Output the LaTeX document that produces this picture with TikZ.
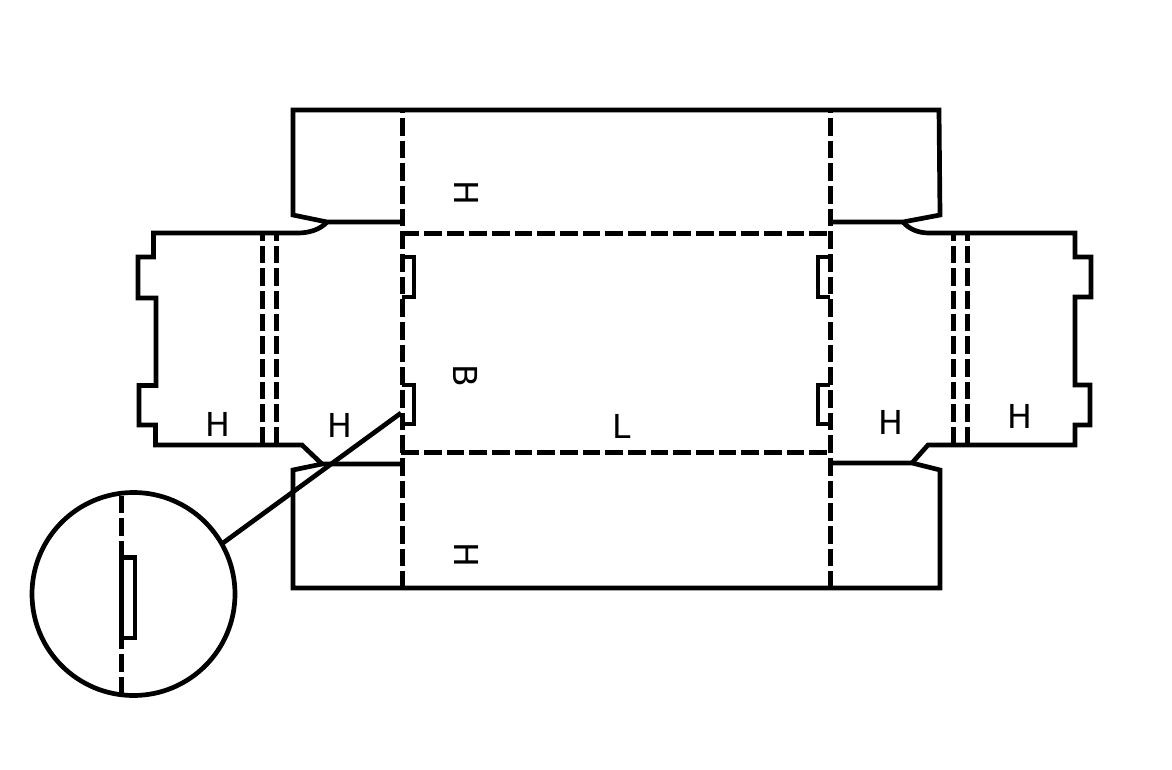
\documentclass[tikz,border=0pt]{standalone}
\usepackage{fontspec}
\setmainfont{DejaVu Sans}
\tikzset{
  cut/.style={line width=4.7pt,line join=miter,black},
  fold/.style={line width=5pt,black,dash pattern=on 17.6pt off 5.07pt},
  lbl/.style={inner sep=0pt,font=\fontsize{33}{33}\selectfont},
}
\begin{document}
\begin{tikzpicture}[x=1pt,y=-1pt]
\useasboundingbox (0,0) rectangle (1172,770);
% top flap
\draw[cut] (402,222) -- (327,222) -- (293,215) -- (293,110) -- (939,110) -- (940,215) -- (903,222) -- (830,222);
% bottom flap
\draw[cut] (402,464) -- (322,464) -- (293,470) -- (293,588) -- (940,588) -- (940,470) -- (912,463) -- (830,463);
% left side
\draw[cut] (327,222) .. controls (320,230) and (308,233) .. (298,233) -- (153.5,233) -- (153.5,257) -- (138,257) -- (138,298) -- (156,298) -- (156,385.5) -- (139,385.5) -- (139,425) -- (155.5,425) -- (155.5,445) -- (302,445) -- (322,464);
% right side
\draw[cut] (903,222) .. controls (909,229) and (918,233) .. (929,233) -- (1075,233) -- (1075,257) -- (1091,257) -- (1091,297) -- (1075,297) -- (1075,385) -- (1090,385) -- (1090,425) -- (1075,425) -- (1075,445) -- (928,445) -- (912,463);
% small tabs
\draw[cut] (402,257) -- (414,257) -- (414,297) -- (402,297);
\draw[cut] (402,385) -- (414,385) -- (414,424) -- (402,424);
\draw[cut] (830,257) -- (818,257) -- (818,297) -- (830,297);
\draw[cut] (830,385) -- (818,385) -- (818,424) -- (830,424);
% fold lines
\draw[fold,dash phase=14.6pt] (402,110) -- (402,588);
\draw[fold,dash phase=14.6pt] (830,110) -- (830,588);
\draw[fold] (401.4,233) -- (830,233);
\draw[fold] (401.4,452.4) -- (830,452.4);
\draw[fold,dash phase=10pt] (262,233) -- (262,445);
\draw[fold,dash phase=10pt] (276,233) -- (276,445);
\draw[fold,dash phase=10pt] (953,233) -- (953,445);
\draw[fold,dash phase=10pt] (967,233) -- (967,445);
% detail circle
\node[circle,draw,line width=4.7pt,minimum size=203pt,inner sep=0pt] (detail) at (133.5,594) {};
\coordinate (tabpoint) at (401,413);
\draw[cut] (tabpoint) -- (223,543);
\draw[fold] (121.5,495.5) -- (121.5,695);
\draw[cut] (121.5,638) -- (121.5,557.5) -- (135,557.5) -- (135,638) -- (119,638);
% labels
\node[lbl,rotate=-90] (h1) at (467,193) {H};
\node[lbl,rotate=-90] (b) at (466,376) {B};
\node[lbl,rotate=-90] (h2) at (467,555) {H};
\node[lbl] (l) at (622,426.5) {L};
\node[lbl] (h3) at (218,424) {H};
\node[lbl] (h4) at (340,425.5) {H};
\node[lbl] (h5) at (890.5,422) {H};
\node[lbl] (h6) at (1019.5,416) {H};
\end{tikzpicture}
\end{document}
